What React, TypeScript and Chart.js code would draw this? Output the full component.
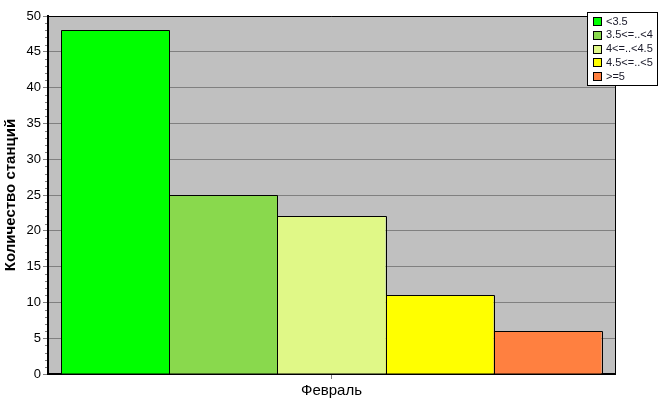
import React, { useEffect, useRef } from "react";
import { Chart, registerables } from "chart.js";

Chart.register(...registerables);

const categories = ["Февраль"];
const seriesLabels = ["<3.5", "3.5<=..<4", "4<=..<4.5", "4.5<=..<5", ">=5"];
const seriesValues = [48, 25, 22, 11, 6];
const seriesColors = ["#00FF00", "#89D94D", "#E0F887", "#FFFF00", "#FF8040"];
const yTitle = "Количество станций";

const FONT = "'Liberation Sans', Arial, sans-serif";

const plotBg = {
  id: "plotBg",
  beforeDraw(chart: any) {
    const { ctx, chartArea: a } = chart;
    ctx.save();
    ctx.fillStyle = "#C0C0C0";
    ctx.fillRect(a.left, a.top, a.right - a.left, a.bottom - a.top);
    ctx.restore();
  },
  afterDatasetsDraw(chart: any) {
    const { ctx } = chart;
    ctx.save();
    ctx.strokeStyle = "#000";
    ctx.lineWidth = 1;
    chart.data.datasets.forEach((_: any, i: number) => {
      chart.getDatasetMeta(i).data.forEach((el: any) => {
        const l = Math.round(el.x - el.width / 2) + 0.5;
        const r = Math.round(el.x + el.width / 2) + 0.5;
        const t = Math.round(el.y) + 0.5;
        const b = Math.round(el.base);
        ctx.beginPath();
        ctx.moveTo(l, b);
        ctx.lineTo(l, t);
        ctx.lineTo(r, t);
        ctx.lineTo(r, b);
        ctx.stroke();
      });
    });
    ctx.restore();
  },
  afterDraw(chart: any) {
    const { ctx, chartArea: a } = chart;
    ctx.save();
    ctx.strokeStyle = "#000";
    ctx.lineWidth = 1;
    ctx.beginPath();
    ctx.moveTo(a.left, a.top + 0.5);
    ctx.lineTo(a.right + 0.5, a.top + 0.5);
    ctx.lineTo(a.right + 0.5, a.bottom);
    ctx.stroke();
    // minor ticks on y axis
    const ys = chart.scales.y;
    ctx.strokeStyle = "#808080";
    ctx.beginPath();
    for (let v = ys.min; v <= ys.max; v += 1) {
      if (v % 5 === 0) continue;
      const py = Math.round(ys.getPixelForValue(v)) + 0.5;
      ctx.moveTo(a.left - 3, py);
      ctx.lineTo(a.left - 1, py);
    }
    ctx.stroke();
    // legend
    const x0 = 587, y0 = 12, w = 70, h = 73;
    ctx.fillStyle = "#fff";
    ctx.fillRect(x0, y0, w, h);
    ctx.strokeStyle = "#000";
    ctx.strokeRect(x0 + 0.5, y0 + 0.5, w, h);
    ctx.font = "11px " + FONT;
    ctx.textBaseline = "middle";
    ctx.textAlign = "left";
    chart.data.datasets.forEach((ds: any, i: number) => {
      const cy = y0 + 9 + i * 13.8;
      ctx.fillStyle = ds.backgroundColor;
      ctx.fillRect(x0 + 6, Math.round(cy - 4), 8, 8);
      ctx.strokeStyle = "#000";
      ctx.strokeRect(x0 + 6.5, Math.round(cy - 4) + 0.5, 8, 8);
      ctx.fillStyle = "#1a1a2a";
      ctx.fillText(ds.label, x0 + 19, cy + 0.5);
    });
    ctx.restore();
  },
};

export default function App() {
  const ref = useRef<HTMLCanvasElement>(null);
  useEffect(() => {
    if (!ref.current) return;
    const chart = new Chart(ref.current, {
      type: "bar",
      data: {
        labels: categories,
        datasets: seriesLabels.map((l, i) => ({
          label: l,
          data: [seriesValues[i]],
          backgroundColor: seriesColors[i],
          borderWidth: 0,
          barPercentage: 1,
          categoryPercentage: 0.9524,
        })),
      },
      options: {
        animation: false,
        responsive: false,
        maintainAspectRatio: false,
        layout: { padding: { left: 0, top: 16, right: 52, bottom: 0 } },
        plugins: { legend: { display: false }, tooltip: { enabled: false } },
        scales: {
          x: {
            afterFit: (s: any) => { s.height = 41; },
            grid: { offset: false, drawOnChartArea: false, drawTicks: true, tickLength: 5, color: "#808080" },
            border: { display: true, color: "#000", width: 2 },
            ticks: { color: "#000", font: { family: FONT, size: 15 }, padding: 3 },
          },
          y: {
            min: 0,
            max: 50,
            afterFit: (s: any) => { s.width = 48; },
            ticks: { stepSize: 5, color: "#000", font: { family: FONT, size: 13 }, padding: 2 },
            grid: { color: "#808080", tickLength: 5 },
            border: { display: true, color: "#000", width: 2 },
            title: {
              display: true,
              text: yTitle,
              color: "#000",
              font: { family: FONT, size: 15, weight: "bold" },
              padding: { top: 2, bottom: 0 },
            },
          },
        },
      },
      plugins: [plotBg],
    });
    return () => chart.destroy();
  }, []);
  return (
    <div style={{ position: "fixed", left: 0, top: 0, width: 667, height: 415, background: "#fff" }}>
      <canvas ref={ref} width={667} height={415} style={{ display: "block" }} />
    </div>
  );
}
